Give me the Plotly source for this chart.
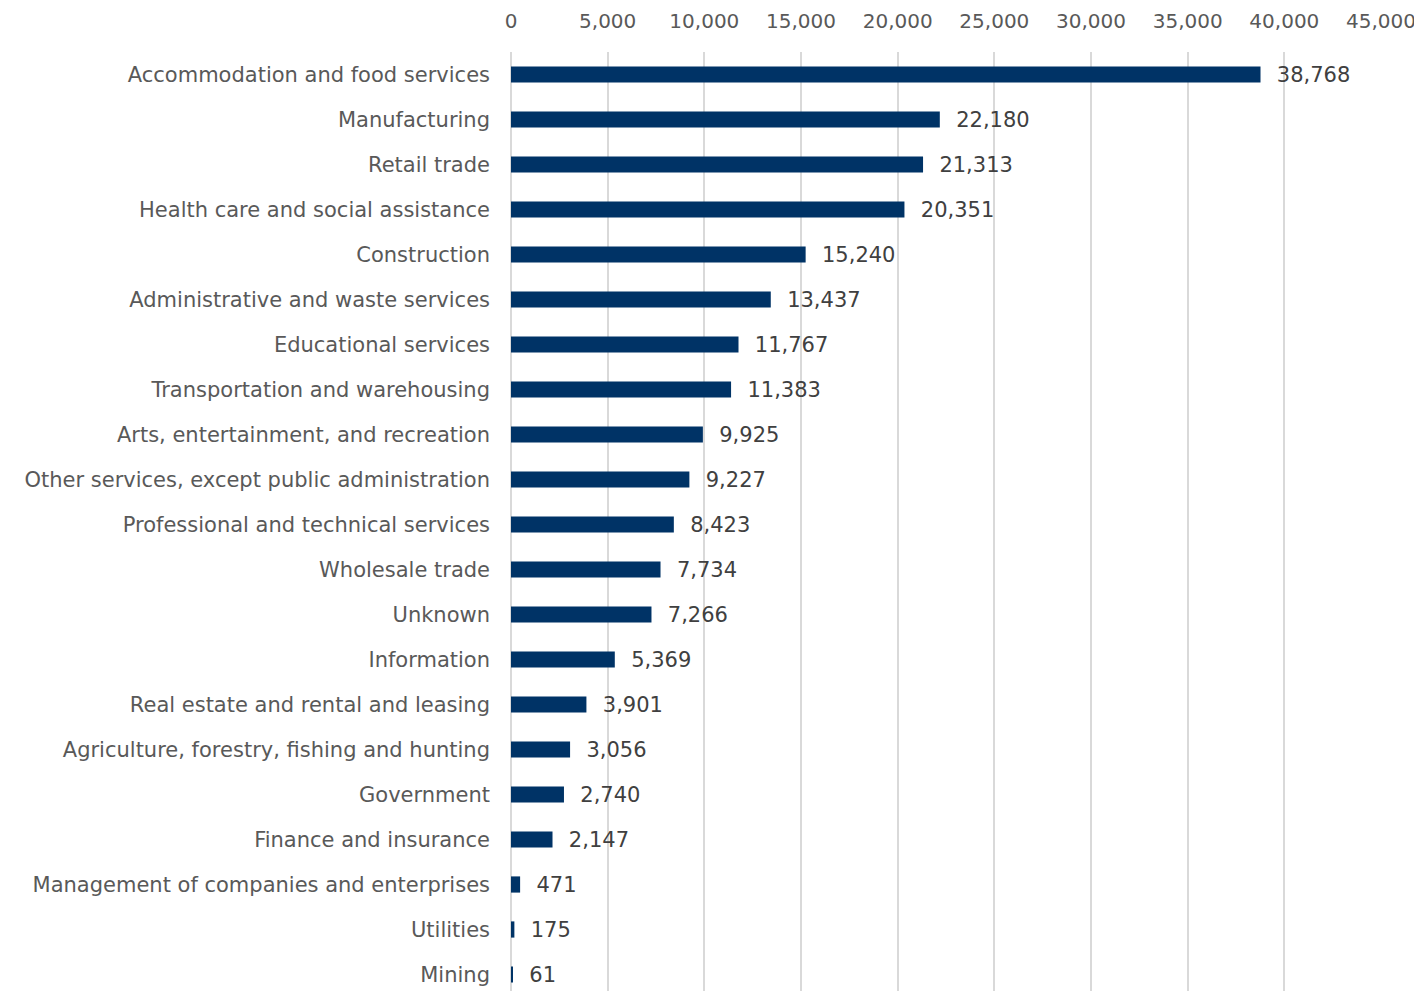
import plotly.graph_objects as go

industries = [
    "Accommodation and food services",
    "Manufacturing",
    "Retail trade",
    "Health care and social assistance",
    "Construction",
    "Administrative and waste services",
    "Educational services",
    "Transportation and warehousing",
    "Arts, entertainment, and recreation",
    "Other services, except public administration",
    "Professional and technical services",
    "Wholesale trade",
    "Unknown",
    "Information",
    "Real estate and rental and leasing",
    "Agriculture, forestry, fishing and hunting",
    "Government",
    "Finance and insurance",
    "Management of companies and enterprises",
    "Utilities",
    "Mining",
]
counts = [38768, 22180, 21313, 20351, 15240, 13437, 11767, 11383, 9925, 9227,
          8423, 7734, 7266, 5369, 3901, 3056, 2740, 2147, 471, 175, 61]
tick_vals = list(range(0, 45001, 5000))
tick_text = [f"{v:,}" for v in tick_vals]

fig = go.Figure(
    go.Bar(
        x=counts,
        y=industries,
        orientation="h",
        marker=dict(color="#003366", line=dict(width=0)),
        text=[f"  {v:,}" for v in counts],
        textposition="outside",
        constraintext="none",
        textfont=dict(color="#404040", size=21),
        cliponaxis=False,
    )
)

# page body has an 8px default margin, so margins are shifted to compensate
fig.update_layout(
    width=1414,
    height=989,
    plot_bgcolor="white",
    paper_bgcolor="white",
    font=dict(family="DejaVu Sans", size=21, color="#595959"),
    margin=dict(l=503, r=41, t=44, b=0),
    bargap=0.64,
    showlegend=False,
)
fig.update_xaxes(
    side="top",
    range=[0, 45000],
    tickvals=tick_vals,
    ticktext=tick_text,
    tickfont=dict(size=20),
    showgrid=True,
    gridcolor="#d9d9d9",
    gridwidth=2,
    zeroline=True,
    zerolinecolor="#d9d9d9",
    zerolinewidth=2,
    showline=False,
    ticks="",
    automargin=False,
    ticklabelstandoff=19,
)
fig.update_yaxes(
    categoryorder="array",
    categoryarray=industries[::-1],
    showgrid=False,
    ticks="",
    showline=False,
    automargin=False,
    ticklabelstandoff=20,
)

fig.write_html("out.html")
